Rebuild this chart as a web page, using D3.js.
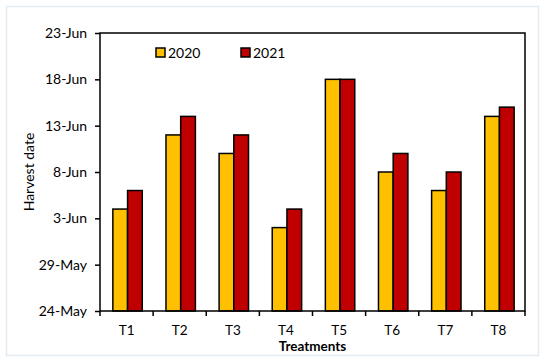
<!DOCTYPE html>
<html><head><meta charset="utf-8">
<script src="https://cdn.jsdelivr.net/npm/d3@7"></script>
<style>
html,body{margin:0;padding:0;background:#fff;}
text{font-family:Lato,"Open Sans",sans-serif;fill:#000;}
</style></head>
<body><svg id="c" width="550" height="364"></svg>
<script>
const categories = ["T1","T2","T3","T4","T5","T6","T7","T8"];
const series = ["2020","2021"];
const values2020 = ["2021-06-04","2021-06-12","2021-06-10","2021-06-02","2021-06-18","2021-06-08","2021-06-06","2021-06-14"];
const values2021 = ["2021-06-06","2021-06-14","2021-06-12","2021-06-04","2021-06-18","2021-06-10","2021-06-08","2021-06-15"];
const yTicks = ["2021-05-24","2021-05-29","2021-06-03","2021-06-08","2021-06-13","2021-06-18","2021-06-23"];
const colors = ["#FFC000","#C00000"];

const parse = d3.utcParse("%Y-%m-%d");
const fmt = d3.utcFormat("%-d-%b");
const svg = d3.select("#c");
const m = {l:100, t:33, r:525, b:311};

// outer frame
svg.append("rect").attr("x",6.5).attr("y",6.5).attr("width",532).attr("height",349)
  .attr("fill","#fff").attr("stroke","#e2eaf2").attr("stroke-width",1.5);

const x = d3.scaleBand().domain(categories).range([m.l,m.r]);
const x1 = d3.scaleBand().domain(series).range([0,29.4]);
const y = d3.scaleUtc().domain([parse(yTicks[0]), parse(yTicks[yTicks.length-1])]).range([m.b,m.t]);

const data = categories.map((c,i)=>({cat:c, vals:[values2020[i], values2021[i]]}));

const g = svg.append("g");
data.forEach(d=>{
  const off = x(d.cat) + (x.bandwidth()-29.4)/2 + 1;
  d.vals.forEach((v,j)=>{
    g.append("rect")
      .attr("x", off + x1(series[j]))
      .attr("y", y(parse(v)))
      .attr("width", x1.bandwidth())
      .attr("height", m.b - y(parse(v)))
      .attr("fill", colors[j]).attr("stroke","#000").attr("stroke-width",1.5);
  });
});

// plot border
svg.append("rect").attr("x",m.l).attr("y",m.t).attr("width",m.r-m.l).attr("height",m.b-m.t)
  .attr("fill","none").attr("stroke","#000").attr("stroke-width",1.5);

// y axis
const yAxis = d3.axisLeft(y).tickValues(yTicks.map(parse)).tickFormat(fmt).tickSize(5).tickPadding(8);
const ya = svg.append("g").attr("transform",`translate(${m.l},0)`).call(yAxis);
ya.select(".domain").remove();
ya.selectAll("line").attr("stroke","#000").attr("stroke-width",1.5);
ya.selectAll("text").style("font-size","14px").style("font-family","Lato, sans-serif");

// x axis: ticks at band boundaries
const xa = svg.append("g").attr("transform",`translate(0,${m.b})`);
const bounds = categories.map(c=>x(c)).concat([m.r]);
xa.selectAll("line").data(bounds).join("line")
  .attr("x1",d=>d).attr("x2",d=>d).attr("y1",0).attr("y2",5)
  .attr("stroke","#000").attr("stroke-width",1.5);
xa.selectAll("text").data(categories).join("text")
  .attr("x",d=>x(d)+x.bandwidth()/2).attr("y",24)
  .attr("text-anchor","middle").style("font-size","13.5px").text(d=>d);

svg.append("text").attr("x",(m.l+m.r)/2).attr("y",351).attr("text-anchor","middle")
  .style("font-size","13.5px").style("font-weight","bold").text("Treatments");
svg.append("text").attr("transform",`translate(34,${(m.t+m.b)/2}) rotate(-90)`)
  .attr("text-anchor","middle").style("font-size","14px").text("Harvest date");

// legend
const legX = [156,241];
series.forEach((s,i)=>{
  svg.append("rect").attr("x",legX[i]).attr("y",48).attr("width",9).attr("height",9)
    .attr("fill",colors[i]).attr("stroke","#000").attr("stroke-width",1.5);
  svg.append("text").attr("x",legX[i]+12).attr("y",57.5).style("font-size","14px").text(s);
});
</script></body></html>
